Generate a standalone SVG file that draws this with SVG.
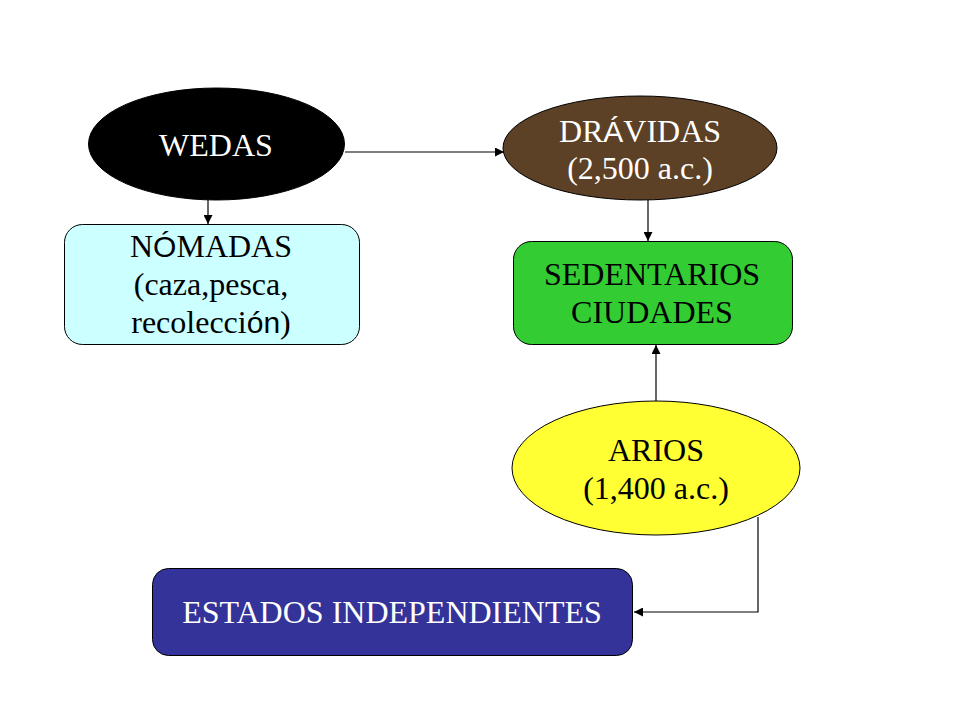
<svg xmlns="http://www.w3.org/2000/svg" width="960" height="720" viewBox="0 0 960 720">
<defs>
<marker id="ah" viewBox="0 0 10 10" refX="10" refY="5" markerWidth="9" markerHeight="9" markerUnits="userSpaceOnUse" orient="auto">
<path d="M0,0 L10,5 L0,10 z" fill="#000"/>
</marker>
</defs>
<style>
text{font-family:"Liberation Serif","Times New Roman",serif;font-size:32px;text-anchor:middle}
.s{font-family:"Liberation Sans",Arial,sans-serif;font-size:30px}
.w{fill:#fff}.k{fill:#000}
.n{stroke:#000;stroke-width:1}
.c{fill:none;stroke:#000;stroke-width:1.2}
</style>
<rect width="960" height="720" fill="#fff"/>
<g id="connectors">
<line class="c" x1="345" y1="152" x2="504" y2="152" marker-end="url(#ah)"/>
<line class="c" x1="208" y1="200" x2="208" y2="224" marker-end="url(#ah)"/>
<line class="c" x1="648" y1="200" x2="648" y2="241" marker-end="url(#ah)"/>
<line class="c" x1="656" y1="401" x2="656" y2="345" marker-end="url(#ah)"/>
<polyline class="c" points="758,517 758,612 634,612" marker-end="url(#ah)"/>
</g>
<g id="wedas">
<ellipse class="n" cx="216.5" cy="144" rx="128" ry="56" fill="#000"/>
<text class="w" x="216" y="156">WEDAS</text>
</g>
<g id="nomadas">
<rect class="n" x="64.5" y="224.5" width="295" height="120" rx="18" fill="#CCFFFF"/>
<text class="k" x="211" y="257">N<tspan class="s">Ó</tspan>MADAS</text>
<text class="k" x="211" y="295">(caza,pesca,</text>
<text class="k" x="211" y="333">recolecci<tspan class="s">ón</tspan>)</text>
</g>
<g id="dravidas">
<ellipse class="n" cx="640" cy="148" rx="137" ry="52" fill="#5C4126"/>
<text class="w" x="640" y="142">DR<tspan class="s">Á</tspan>VIDAS</text>
<text class="w" x="640" y="179">(2,500 a.c.)</text>
</g>
<g id="sedentarios">
<rect class="n" x="513.5" y="241.5" width="279" height="103" rx="18" fill="#33CC33"/>
<text class="k" x="652" y="285">SEDENTARIOS</text>
<text class="k" x="652" y="323">CIUDADES</text>
</g>
<g id="arios">
<ellipse class="n" cx="656" cy="468" rx="144" ry="67" fill="#FFFF33"/>
<text class="k" x="656" y="461">ARIOS</text>
<text class="k" x="656" y="499">(1,400 a.c.)</text>
</g>
<g id="estados">
<rect class="n" x="152.5" y="568.5" width="480" height="87" rx="16" fill="#333399"/>
<text class="w" x="392" y="623">ESTADOS INDEPENDIENTES</text>
</g>
</svg>
